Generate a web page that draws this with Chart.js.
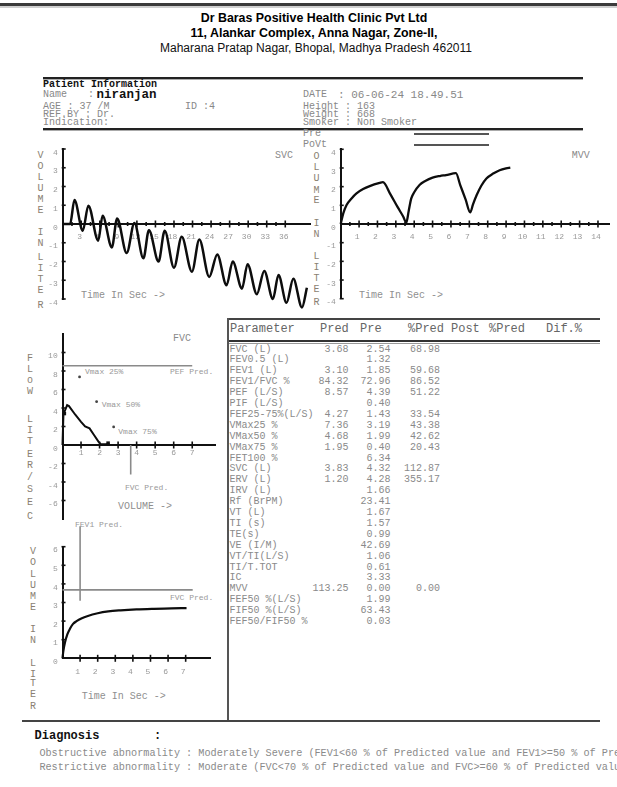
<!DOCTYPE html>
<html><head><meta charset="utf-8">
<script src="https://cdn.jsdelivr.net/npm/chart.js@4.4.1/dist/chart.umd.min.js"></script>
<style>
html,body{margin:0;padding:0;background:#fff;}
body{width:617px;height:787px;position:relative;overflow:hidden;font-family:"Liberation Mono","DejaVu Sans Mono",monospace;color:#888;}
.t{position:absolute;white-space:nowrap;line-height:1;}
.ln{position:absolute;}
canvas{position:absolute;}
</style></head><body>
<script>
// ---------------- DATA ----------------
const svcTime   = [0, 1.2, 1.9, 3.25, 4.15, 5.75, 6.45, 7.95, 8.8, 10.35, 11.6, 13.05, 13.95, 15.5, 16.5, 18.0, 19.25, 20.9, 22.1, 23.7, 25.0, 26.5, 27.5, 29.0, 29.9, 31.4, 32.6, 34.0, 34.9, 36.2, 37.3, 38.7, 39.5];
const svcVolume = [0, 0, 1.28, -0.36, 0.98, -0.89, 0.44, -1.25, 0.3, -1.55, 0.06, -1.83, -0.33, -2.0, -0.36, -2.33, -0.68, -2.54, -0.83, -2.82, -1.62, -3.27, -2.0, -3.45, -2.14, -3.74, -2.5, -4.0, -2.72, -4.2, -2.92, -4.45, -3.4];

const mvvTime   = [0, 0.14, 0.32, 0.59, 0.86, 1.22, 1.58, 2.12, 2.3, 2.7, 3.1, 3.4, 3.57, 3.7, 3.84, 4.0, 4.29, 4.6, 5.0, 5.4, 5.73, 6.27, 6.5, 6.8, 7.05, 7.2, 7.4, 7.65, 7.93, 8.3, 8.65, 9.0, 9.23];
const mvvVolume = [0, 0.57, 1.02, 1.37, 1.64, 1.87, 2.03, 2.2, 2.24, 1.6, 0.9, 0.4, 0.07, 0.7, 1.37, 1.7, 2.09, 2.3, 2.48, 2.57, 2.62, 2.72, 2.1, 1.3, 0.62, 1.05, 1.55, 2.05, 2.44, 2.7, 2.88, 2.98, 3.02];

const fvcVolume = [0, 0.05, 0.25, 0.35, 0.68, 1.0, 1.22, 1.46, 1.7, 1.94, 2.06, 2.3, 2.54];
const fvcFlow   = [0, 3.3, 4.3, 4.2, 3.3, 2.5, 2.0, 1.8, 1.08, 0.36, 0.1, 0.08, 0.1];
const fvcMarkVolume = [0.1, 2.46];
const fvcMarkFlow   = [3.4, 0.2];

const fev1Time   = [0, 0.05, 0.14, 0.28, 0.43, 0.6, 0.8, 1.1, 1.4, 2.0, 2.6, 3.3, 4.2, 5.2, 6.2, 7.05];
const fev1Volume = [0, 0.4, 0.85, 1.3, 1.6, 1.85, 2.0, 2.15, 2.26, 2.42, 2.52, 2.58, 2.63, 2.66, 2.68, 2.7];

const vmaxLabels = ['Vmax 25%', 'Vmax 50%', 'Vmax 75%'];
const vmaxVolume = [0.92, 1.84, 2.76];
const vmaxFlow   = [7.36, 4.68, 1.95];

const predFVC = 3.68, predPEF = 8.57, predFEV1 = 3.10;
const pefLineEnd = 7, fvcLineLow = -3.2, fvcLineEnd = 7.4, fev1LineTop = 7.1;

const tableHeader = ['Parameter', 'Pred', 'Pre', '%Pred', 'Post', '%Pred', 'Dif.%'];
const tableParams = ['FVC (L)','FEV0.5 (L)','FEV1 (L)','FEV1/FVC %','PEF (L/S)','PIF (L/S)','FEF25-75%(L/S)','VMax25 %','VMax50 %','VMax75 %','FET100 %','SVC (L)','ERV (L)','IRV (L)','Rf (BrPM)','VT (L)','TI (s)','TE(s)','VE (I/M)','VT/TI(L/S)','TI/T.TOT','IC','MVV','FEF50 %(L/S)','FIF50 %(L/S)','FEF50/FIF50 %'];
const tablePred = ['3.68','','3.10','84.32','8.57','','4.27','7.36','4.68','1.95','','3.83','1.20','','','','','','','','','','113.25','','',''];
const tablePre  = ['2.54','1.32','1.85','72.96','4.39','0.40','1.43','3.19','1.99','0.40','6.34','4.32','4.28','1.66','23.41','1.67','1.57','0.99','42.69','1.06','0.61','3.33','0.00','1.99','63.43','0.03'];
const tablePct  = ['68.98','','59.68','86.52','51.22','','33.54','43.38','42.62','20.43','','112.87','355.17','','','','','','','','','','0.00','','',''];

// ---------------- HELPERS ----------------
function T(x, y, s, o) {
  o = o || {};
  const d = document.createElement('div');
  d.className = 't';
  d.textContent = s;
  const size = o.size || 10;
  d.style.fontSize = size + 'px';
  d.style.top = (y - size * 0.5) + 'px';
  if (o.align === 'right') { d.style.right = (617 - x) + 'px'; }
  else if (o.align === 'center') { d.style.left = x + 'px'; d.style.transform = 'translateX(-50%)'; }
  else d.style.left = x + 'px';
  if (o.color) d.style.color = o.color;
  if (o.bold) d.style.fontWeight = 'bold';
  if (o.family) d.style.fontFamily = o.family;
  document.body.appendChild(d);
  return d;
}
function L(x, y, w, h, c) {
  const d = document.createElement('div');
  d.className = 'ln';
  d.style.left = x + 'px'; d.style.top = y + 'px';
  d.style.width = w + 'px'; d.style.height = h + 'px';
  d.style.background = c || '#333';
  document.body.appendChild(d);
}
function V(x, letters, ys, color) {
  for (let i = 0; i < letters.length; i++) T(x, ys[i], letters[i], {size: 10, color: color || '#8a7f72'});
}

// ---------------- PAGE FRAME ----------------
L(0, 3, 617, 3, '#3b3b3b');
L(0, 6, 617, 2, '#cfcfcf');
const sans = '"Liberation Sans", Arial, sans-serif';
T(314, 17.7, 'Dr Baras Positive Health Clinic Pvt Ltd', {size: 12.4, bold: true, family: sans, color: '#000', align: 'center'});
T(314, 33.5, '11, Alankar Complex, Anna Nagar, Zone-II,', {size: 12.4, bold: true, family: sans, color: '#000', align: 'center'});
T(316, 48, 'Maharana Pratap Nagar, Bhopal, Madhya Pradesh 462011', {size: 12, family: sans, color: '#111', align: 'center'});
L(42.5, 76.5, 540.5, 2, '#222'); L(42.5, 78.5, 540.5, 1, '#aaa');
T(43, 84.6, 'Patient Information', {size: 10, bold: true, color: '#111'});
T(43, 95, 'Name', {size: 10}); T(88, 95, ':', {size: 10});
T(96.5, 95, 'niranjan', {size: 12.5, bold: true, color: '#111'});
T(303, 95, 'DATE', {size: 10}); T(338, 95, ': 06-06-24 18.49.51', {size: 11});
T(43, 107, 'AGE', {size: 10}); T(67.5, 107, ': 37 /M', {size: 10}); T(185, 107, 'ID :4', {size: 10});
T(303, 107, 'Height : 163', {size: 10});
T(43, 115, 'REF.BY : Dr.', {size: 10}); T(303, 115, 'Weight : 668', {size: 10});
T(43, 122.5, 'Indication:', {size: 10}); T(303, 122.5, 'Smoker : Non Smoker', {size: 10});
L(42.5, 127.5, 540.5, 2, '#222'); L(42.5, 129.5, 540.5, 1, '#aaa');
T(303, 134, 'Pre', {size: 10}); T(303, 145, 'PoVt', {size: 10});
L(414, 133, 75, 2, '#555'); L(414, 144, 75, 2, '#555');

// table frame
L(227, 318, 373, 2, '#444');
L(227, 318, 2, 403, '#555');
L(22, 720, 578, 2, '#444');
L(229, 339.5, 371, 2, '#333'); L(229, 342.5, 371, 1, '#999');

// ---------------- TABLE ----------------
const hx = [230, 320, 360, 408, 451, 489, 546];
tableHeader.forEach((h, i) => T(hx[i], 329, h, {size: 12, color: '#666'}));
for (let i = 0; i < tableParams.length; i++) {
  const y = 349.5 + 10.9 * i;
  T(229.5, y, tableParams[i], {size: 10, color: '#8a8a8a'});
  if (tablePred[i]) T(348.5, y, tablePred[i], {size: 10, color: '#8a8a8a', align: 'right'});
  if (tablePre[i]) T(390.5, y, tablePre[i], {size: 10, color: '#8a8a8a', align: 'right'});
  if (tablePct[i]) T(440, y, tablePct[i], {size: 10, color: '#8a8a8a', align: 'right'});
}

// ---------------- DIAGNOSIS ----------------
T(34.6, 736, 'Diagnosis', {size: 12, bold: true, color: '#111'});
T(154, 736, ':', {size: 12, bold: true, color: '#111'});
T(39.4, 754, 'Obstructive abnormality : Moderately Severe (FEV1<60 % of Predicted value and FEV1>=50 % of Predicted value)', {size: 10.2, color: '#8a8a8a'});
T(39.4, 768, 'Restrictive abnormality : Moderate (FVC<70 % of Predicted value and FVC>=60 % of Predicted value)', {size: 10.2, color: '#8a8a8a'});

// ---------------- CHART TEXTS ----------------
V(37.5, 'VOLUMEINLITER', [156,167,178,189,200,211,233,244,258,269,280,291,306]);
T(275, 156, 'SVC', {size: 10, color: '#8a8a8a'});
T(81, 296, 'Time In Sec ->', {size: 10, color: '#8f8f8f'});
V(313.5, 'OLUMEINLITER', [157,168,179,190.5,201,224,235,257,268,279,290,303]);
T(571.7, 156, 'MVV', {size: 10, color: '#8a8a8a'});
T(359, 296, 'Time In Sec ->', {size: 10, color: '#8f8f8f'});
V(27, 'FLoWLITER/SEC', [359,370,381,392,420,431,442,455,466,478,490,503,517]);
T(173, 339, 'FVC', {size: 10, color: '#8a8a8a'});
T(170, 372, 'PEF Pred.', {size: 8, color: '#999'});
T(125, 488, 'FVC Pred.', {size: 8, color: '#999'});
T(118, 507, 'VOLUME ->', {size: 10, color: '#8f8f8f'});
const vmaxTextPos = [[85, 371.7], [101.7, 405], [118.3, 431.7]];
vmaxLabels.forEach((s, i) => T(vmaxTextPos[i][0], vmaxTextPos[i][1], s, {size: 8, color: '#999'}));
V(30, 'VOLUMEINLITER', [551.7,563,575,586,597,608,630,641,664,675,684,695,707]);
T(75, 525, 'FEV1 Pred.', {size: 8, color: '#999'});
T(170, 598, 'FVC Pred.', {size: 8, color: '#999'});
T(81.7, 697, 'Time In Sec ->', {size: 10, color: '#8f8f8f'});

// ---------------- CHARTS ----------------
const pts = (xs, ys) => xs.map((x, i) => ({x: x, y: ys[i]}));
const isMult = (v, m) => Math.abs(v / m - Math.round(v / m)) < 1e-6;

const crossTicks = {
  id: 'crossTicks',
  afterDatasetsDraw(chart, args, o) {
    const ctx = chart.ctx, xs = chart.scales.x, ys = chart.scales.y;
    const x0 = xs.getPixelForValue(0), y0 = ys.getPixelForValue(0);
    ctx.save(); ctx.strokeStyle = '#111'; ctx.lineWidth = 1.6;
    xs.ticks.forEach(t => {
      if (t.value <= 0 || t.value > o.xLast + 1e-6) return;
      const len = isMult(t.value, o.xMajor) ? o.xMajorLen : o.xMinorLen;
      const px = xs.getPixelForValue(t.value);
      ctx.beginPath(); ctx.moveTo(px, y0 - len); ctx.lineTo(px, y0 + len); ctx.stroke();
    });
    ys.ticks.forEach(t => {
      if (Math.abs(t.value) < 1e-9 || t.value > o.yLast + 1e-6 || t.value < o.yFirst - 1e-6) return;
      const py = ys.getPixelForValue(t.value);
      ctx.beginPath(); ctx.moveTo(x0 - 1, py); ctx.lineTo(x0 + o.yLen, py); ctx.stroke();
    });
    ctx.restore();
  }
};

function makeCanvas(left, top, w, h) {
  const c = document.createElement('canvas');
  c.width = w; c.height = h;
  c.style.left = left + 'px'; c.style.top = top + 'px';
  c.style.width = w + 'px'; c.style.height = h + 'px';
  document.body.appendChild(c);
  return c;
}
const tickFont = {family: 'Liberation Mono', size: 8};
function scales(c) {
  return {
    x: {
      type: 'linear', min: c.xMin, max: c.xMax, position: {y: 0},
      afterFit(s) { s.height = 0; },
      border: {color: '#111', width: 2},
      grid: {display: true, drawOnChartArea: false, drawTicks: false},
      ticks: {stepSize: c.xStep, autoSkip: false, maxRotation: 0, minRotation: 0, padding: c.xPad, labelOffset: c.xOff, color: '#999', font: tickFont, callback: c.xCb}
    },
    y: {
      type: 'linear', min: c.yMin, max: c.yMax, position: {x: 0},
      afterFit(s) { s.width = 0; },
      border: {color: '#111', width: 2},
      grid: {display: true, drawOnChartArea: false, drawTicks: false},
      ticks: {stepSize: c.yStep, autoSkip: false, padding: 0, labelOffset: c.yOff, color: '#999', font: tickFont, callback: c.yCb}
    }
  };
}
function lineDs(data, extra) {
  return Object.assign({data: data, borderColor: '#0d0d0d', borderWidth: 2.5, pointRadius: 0, fill: false, clip: false, cubicInterpolationMode: 'monotone'}, extra || {});
}
function refDs(data) {
  return {data: data, borderColor: '#8a8a8a', borderWidth: 1.6, pointRadius: 0, fill: false, clip: false, tension: 0};
}
function makeChart(canvas, datasets, sc, pad, ticksOpt) {
  return new Chart(canvas, {
    type: 'line',
    data: {datasets: datasets},
    options: {
      responsive: false, animation: false, events: [],
      layout: {padding: pad},
      plugins: {legend: {display: false}, tooltip: {enabled: false}, crossTicks: ticksOpt},
      scales: scales(sc)
    },
    plugins: [crossTicks]
  });
}
const ylab = v => (Number.isInteger(v) ? String(v) : '') + ' ';

// SVC
makeChart(makeCanvas(20, 132, 300, 190),
  [lineDs(pts(svcTime, svcVolume))],
  {xMin: 0, xMax: 40, xStep: 1.5, xPad: 8, xOff: -1.5,
   xCb: v => (v > 0 && v <= 36 && isMult(v, 3)) ? String(v) : '',
   yMin: -4, yMax: 4, yStep: 1, yOff: 3.5, yCb: ylab},
  {left: 42.7, right: 10, top: 17, bottom: 23},
  {xMajor: 3, xMajorLen: 3.5, xMinorLen: 2, xLast: 36, yLen: 3, yFirst: -4, yLast: 4});

// MVV
makeChart(makeCanvas(322, 132, 295, 190),
  [lineDs(pts(mvvTime, mvvVolume), {borderWidth: 2.3})],
  {xMin: 0, xMax: 14.6, xStep: 0.5, xPad: 8, xOff: -2,
   xCb: v => (v > 0 && v <= 14 && isMult(v, 1)) ? String(v) : '',
   yMin: -4, yMax: 4, yStep: 1, yOff: 3.5, yCb: ylab},
  {left: 18.7, right: 5.9, top: 17.3, bottom: 23.3},
  {xMajor: 1, xMajorLen: 3.5, xMinorLen: 2, xLast: 14, yLen: 3, yFirst: -4, yLast: 4});

// FVC flow-volume
makeChart(makeCanvas(18, 326, 207, 198),
  [lineDs(pts(fvcVolume, fvcFlow), {cubicInterpolationMode: 'default', tension: 0, borderWidth: 2}),
   {data: pts(fvcMarkVolume, fvcMarkFlow), showLine: false, pointStyle: 'rect', pointRadius: 2.5, pointBackgroundColor: '#111', pointBorderWidth: 0, clip: false},
   {data: pts(vmaxVolume, vmaxFlow), showLine: false, pointRadius: 1.4, pointBackgroundColor: '#444', pointBorderWidth: 0, clip: false},
   refDs([{x: 0, y: predPEF}, {x: pefLineEnd, y: predPEF}]),
   refDs([{x: predFVC, y: 0}, {x: predFVC, y: fvcLineLow}])],
  {xMin: 0, xMax: 8.25, xStep: 1, xPad: 3.5, xOff: 0,
   xCb: v => (v > 0 && v <= 8 && isMult(v, 1)) ? String(v) : '',
   yMin: -8, yMax: 12, yStep: 2, yOff: 3.5, yCb: v => (v >= -6 && v <= 10) ? String(v) + ' ' : ''},
  {left: 44.5, right: 9.6, top: 8, bottom: 5},
  {xMajor: 1, xMajorLen: 3.5, xMinorLen: 3.5, xLast: 8, yLen: 3, yFirst: -6, yLast: 10});

// FEV1 volume-time
makeChart(makeCanvas(18, 515, 207, 170),
  [lineDs(pts(fev1Time, fev1Volume), {borderWidth: 2.2}),
   refDs([{x: 0, y: predFVC}, {x: fvcLineEnd, y: predFVC}]),
   refDs([{x: 1, y: predFEV1}, {x: 1, y: fev1LineTop}])],
  {xMin: 0, xMax: 8.4, xStep: 1, xPad: 8.5, xOff: -2.5,
   xCb: v => (v > 0 && v <= 8 && isMult(v, 1)) ? String(v) : '',
   yMin: 0, yMax: 6, yStep: 1, yOff: 3.5, yCb: ylab},
  {left: 44.5, right: 14.7, top: 31.7, bottom: 26.7},
  {xMajor: 1, xMajorLen: 3.5, xMinorLen: 3.5, xLast: 8, yLen: 3, yFirst: 1, yLast: 6});
</script>
</body></html>
